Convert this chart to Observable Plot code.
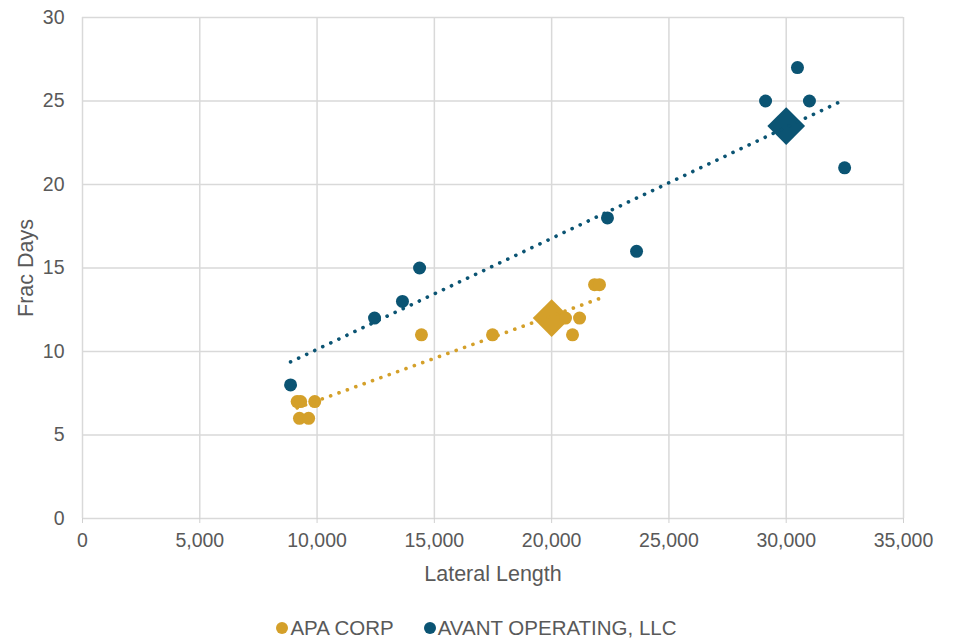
<!DOCTYPE html>
<html><head><meta charset="utf-8">
<script src="https://cdn.jsdelivr.net/npm/d3@7"></script>
<script src="https://cdn.jsdelivr.net/npm/@observablehq/plot@0.6"></script>
<style>
body{margin:0;background:#fff;font-family:"Liberation Sans",Arial,sans-serif;}
#wrap{position:relative;width:953px;height:641px;overflow:hidden;}
#legend{position:absolute;left:0;top:617px;width:953px;display:flex;justify-content:center;gap:30px;font-size:20.5px;color:#595959;line-height:22px;}
.item{display:flex;align-items:center;}
.sw{width:12px;height:12px;border-radius:50%;margin-right:2px;}
</style></head><body><div id="wrap"><div id="chart"></div><div id="legend"></div></div>
<script>
const companies = ["APA CORP", "AVANT OPERATING, LLC"];
const colors = ["#D4A02A", "#0B5473"];
const apaLateral = [9150, 9300, 9900, 9250, 9640, 14450, 17480, 20590, 21190, 20890, 21830, 22040];
const apaFracDays = [7, 7, 7, 6, 6, 11, 11, 12, 12, 11, 14, 14];
const avantLateral = [8870, 12450, 13640, 14370, 22380, 23620, 29120, 30480, 30990, 32490];
const avantFracDays = [8, 12, 13, 15, 18, 16, 25, 27, 25, 21];
const typicalLateral = [20000, 30000];
const typicalFracDays = [12, 23.5];
const xTicks = [0, 5000, 10000, 15000, 20000, 25000, 30000, 35000];
const yTicks = [0, 5, 10, 15, 20, 25, 30];

const points = [
  ...apaLateral.map((x, i) => ({company: companies[0], x, y: apaFracDays[i]})),
  ...avantLateral.map((x, i) => ({company: companies[1], x, y: avantFracDays[i]}))
];
const typical = typicalLateral.map((x, i) => ({company: companies[i], x, y: typicalFracDays[i]}));

const chart = Plot.plot({
  width: 953,
  height: 600,
  marginLeft: 82,
  marginRight: 50,
  marginTop: 17,
  marginBottom: 82,
  style: {fontFamily: '"Liberation Sans", Arial, sans-serif', color: "#595959", background: "#fff"},
  x: {domain: [0, 35000]},
  y: {domain: [0, 30]},
  color: {domain: companies, range: colors},
  marks: [
    Plot.gridX(xTicks, {stroke: "#d9d9d9", strokeOpacity: 1, strokeWidth: 1.5}),
    Plot.gridY(yTicks, {stroke: "#d9d9d9", strokeOpacity: 1, strokeWidth: 1.5}),
    Plot.axisX({ticks: xTicks, tickFormat: d3.format(","), tickSize: 5, tickPadding: 10, stroke: "#d0d0d0", fill: "#595959", fontSize: 19.5,
      label: "Lateral Length", labelAnchor: "center", labelArrow: false, labelOffset: 62}),
    Plot.axisY({ticks: yTicks, tickSize: 0, tickPadding: 18, fontSize: 19.5, fill: "#595959",
      label: "Frac Days", labelAnchor: "center", labelArrow: false, labelOffset: 65}),
    Plot.dot(typical, {x: "x", y: "y", fill: "company", symbol: "diamond2", r: 17}),
    Plot.dot(points, {x: "x", y: "y", fill: "company", r: 6.5}),
    Plot.linearRegressionY(points, {x: "x", y: "y", stroke: "company", ci: 0, strokeWidth: 3.6,
      strokeDasharray: "0.1,8.8", strokeLinecap: "round"})
  ]
});
chart.querySelectorAll("g[aria-label='x-axis label'], g[aria-label='y-axis label']").forEach(e => e.setAttribute("font-size", 21.5));
document.getElementById("chart").appendChild(chart);

const legend = document.getElementById("legend");
companies.forEach((c, i) => {
  const item = document.createElement("div");
  item.className = "item";
  const sw = document.createElement("span");
  sw.className = "sw";
  sw.style.background = colors[i];
  const t = document.createElement("span");
  t.textContent = c;
  item.appendChild(sw); item.appendChild(t);
  legend.appendChild(item);
});
</script></body></html>
